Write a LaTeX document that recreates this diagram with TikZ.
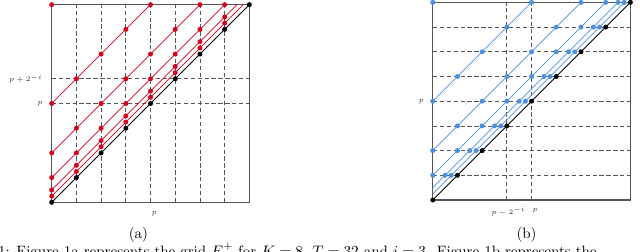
\documentclass[tikz,border=0pt]{standalone}
\usepackage{xcolor}
\usepackage{tikz}
\usepackage{amsmath}
\definecolor{rosso}{HTML}{D5001C}
\definecolor{celeste}{HTML}{4A90E2}
\definecolor{grigio}{HTML}{555555}

\begin{document}
\begin{tikzpicture}[
            cornice/.style={draw=grigio, line width=0.8pt},
            griglia/.style={draw=grigio, line width=0.55pt, dash pattern=on 3pt off 2pt},
            diag/.style={draw=black, line width=0.6pt},
            linrossa/.style={draw=rosso, line width=0.5pt},
            linblu/.style={draw=celeste, line width=0.5pt},
            pto/.style={circle, inner sep=0pt, minimum size=3.6pt},
            nero/.style={pto, fill=black},
            prosso/.style={pto, fill=rosso},
            pblu/.style={pto, fill=celeste},
            etich/.style={font=\tiny, text=black!80, inner sep=1pt},
            sottodid/.style={font=\fontsize{10.8}{13}\selectfont}
        ]
        \useasboundingbox (0,0) rectangle (16.19,6.35);

        % Figura (a): griglia E^+ con linee rosse
        \begin{scope}[shift={(1.308,1.232)}, x=0.625cm, y=0.625cm]
            \coordinate (a00) at (0,0);
            \coordinate (a88) at (8,8);
            \foreach \k in {1,...,7}
                \draw[griglia] (\k,0) coordinate (av\k) -- (\k,8) coordinate (avt\k);
            \foreach \k in {4,5}
                \draw[griglia] (0,\k) coordinate (ah\k) -- (8,\k) coordinate (aht\k);
            \draw[cornice] (a00) rectangle (a88);

            \foreach \c/\n in {4/a, 2/b, 1/c, 0.5/d, 0.25/e} {
                \coordinate (r\n-s) at (0,\c);
                \coordinate (r\n-e) at ({8-\c},8);
                \draw[linrossa] (r\n-s) -- (r\n-e);
            }
            \draw[diag] (a00) -- (a88);

            \node[prosso] (r-top) at (0,8) {};
            \foreach \c/\n/\m in {4/a/4, 2/b/6, 1/c/7, 0.5/d/7, 0.25/e/7}
                \foreach \k in {0,...,\m}
                    \node[prosso] (r\n\k) at (\k,\k+\c) {};
            \foreach \k in {0,...,8}
                \node[nero] (an\k) at (\k,\k) {};

            \node[etich, anchor=east] (ap2) at (-0.3,5) {$p+2^{-i}$};
            \node[etich, anchor=east] (ap) at (-0.3,4) {$p$};
            \node[etich] (apx) at (4.15,-0.45) {$p$};
        \end{scope}

        % Figura (b): griglia con linee blu
        \begin{scope}[shift={(10.947,1.290)}, x=0.625cm, y=0.625cm]
            \coordinate (b00) at (0,0);
            \coordinate (b88) at (8,8);
            \foreach \k in {1,...,7}
                \draw[griglia] (0,\k) coordinate (bh\k) -- (8,\k) coordinate (bht\k);
            \foreach \k in {3,4}
                \draw[griglia] (\k,0) coordinate (bv\k) -- (\k,8) coordinate (bvt\k);
            \draw[cornice] (b00) rectangle (b88);

            \foreach \c/\n in {4/a, 2/b, 1/c, 0.5/d, 0.25/e} {
                \coordinate (c\n-s) at (0,\c);
                \coordinate (c\n-e) at ({8-\c},8);
                \draw[linblu] (c\n-s) -- (c\n-e);
            }
            \draw[diag] (b00) -- (b88);

            \node[pblu] (c-top) at (0,8) {};
            \foreach \c/\n/\m in {4/a/4, 2/b/2, 1/c/1, 0.5/d/1, 0.25/e/1}
                \foreach \k in {\m,...,8}
                    \node[pblu] (c\n\k) at (\k-\c,\k) {};
            \foreach \k in {0,...,8}
                \node[nero] (bn\k) at (\k,\k) {};

            \node[etich, anchor=east] (bp) at (-0.3,4) {$p$};
            \node[etich] (bpx2) at (3.06,-0.45) {$p-2^{-i}$};
            \node[etich] (bpx) at (4.14,-0.45) {$p$};
        \end{scope}

        \node[sottodid] (capa) at (3.50,0.42) {(a)};
        \node[sottodid] (capb) at (13.32,0.42) {(b)};
        \node[sottodid, anchor=base west, inner sep=0pt] (didasc) at (0.41,-0.13)
        {\llap{Figure 1: }Figure 1a represents the grid $E_i^+$ for $K=8$, $T=32$ and $i=3$. Figure 1b represents the};
    \end{tikzpicture}
\end{document}
